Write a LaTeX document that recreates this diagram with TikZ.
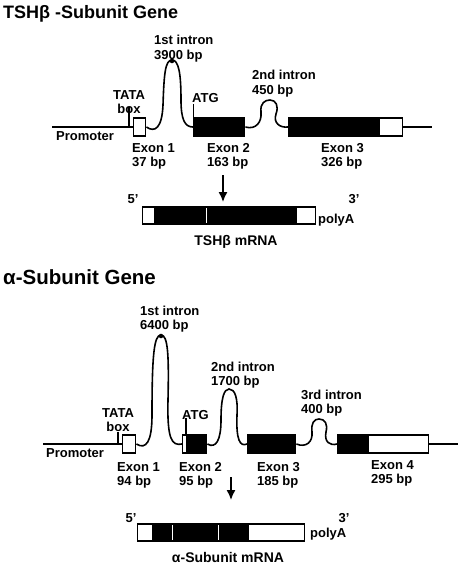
\documentclass[tikz,border=0pt]{standalone}
\usepackage{fontspec}
\setmainfont{Liberation Sans}
\usetikzlibrary{arrows.meta}

\begin{document}
\begin{tikzpicture}[
  x=1pt, y=-1pt,
  dna/.style={line width=1.7pt},
  intron/.style={line width=1.6pt},
  exon/.style={draw, line width=1.4pt, fill=black, inner sep=0pt, minimum height=18pt, anchor=west},
  utr/.style={exon, fill=white},
  rna/.style={exon, minimum height=17pt},
  rnautr/.style={rna, fill=white},
  tickline/.style={line width=1.4pt},
  apex/.style={circle, fill, inner sep=1.6pt},
  lbl/.style={font=\fontsize{13}{14}\selectfont\bfseries, inner sep=0pt, align=left},
  rlbl/.style={font=\fontsize{14}{16}\selectfont\bfseries, inner sep=0pt},
  ttl/.style={font=\fontsize{18}{21}\selectfont\bfseries, inner sep=0pt},
  >={Latex[length=10pt,width=9pt]},
]
\useasboundingbox (0,0) rectangle (458,566);

% ===== TOP PANEL: TSH beta gene ================================================
\node[ttl, anchor=base west] (t-title) at (3,18) {TSHβ -Subunit Gene};

% Exons
\node[utr,  minimum width=12pt] (t-ex1)  at (133,127) {};
\node[exon, minimum width=51pt] (t-ex2)  at (193,127) {};
\node[exon, minimum width=91pt] (t-ex3)  at (288,127) {};
\node[utr,  minimum width=23pt] (t-ex3u) at (379,127) {};

% Promoter and 3' flank
\coordinate (t-start) at (52,127);
\coordinate (t-end)   at (432,127);
\draw[dna] (t-start) -- (t-ex1.west);
\draw[dna] (t-ex3u.east) -- (t-end);

% TATA box and ATG ticks
\coordinate (t-tata)    at (129,127);
\coordinate (t-tata-up) at (129,107);
\draw[tickline] (t-tata) -- (t-tata-up);
\coordinate (t-atg-up) at (193.5,104);
\draw[tickline] (t-ex2.north west) ++(0.5,0) coordinate (t-atg) -- (t-atg-up);

% Introns
\draw[intron] (t-ex1.east) .. controls (155,133) and (162,128) .. (163,105)
  .. controls (164,75) and (165,60) .. (172,60)
  .. controls (179,60) and (181,75) .. (181,100)
  .. controls (181,120) and (185,127) .. (t-ex2.west);
\node[apex] (t-apex1) at (172,61) {};
\draw[intron] (t-ex2.east) .. controls (256,130) and (262,122) .. (261,112)
  .. controls (260,103) and (265,100) .. (270,100)
  .. controls (276,100) and (279,106) .. (276,114)
  .. controls (273,123) and (280,128) .. (t-ex3.west);

% Labels
\node[lbl, align=center, anchor=north] (t-tata-l) at (129,90) {TATA\\box};
\node[lbl, anchor=base west] (t-atg-l) at (192,102) {ATG};
\node[lbl, anchor=north west] (t-in1-l) at (154,35) {1st intron\\[1pt]3900 bp};
\node[lbl, anchor=north west] (t-in2-l) at (252,70) {2nd intron\\[1pt]450 bp};
\node[lbl, anchor=base west] (t-prom-l) at (56,140) {Promoter};
\node[lbl, anchor=north west] (t-ex1-l) at (132,143) {Exon 1\\37 bp};
\node[lbl, anchor=north west] (t-ex2-l) at (207,143) {Exon 2\\163 bp};
\node[lbl, anchor=north west] (t-ex3-l) at (321,143) {Exon 3\\326 bp};

% Splicing arrow
\coordinate (t-arr-a) at (223,175);
\coordinate (t-arr-b) at (223,202);
\draw[->, line width=1.5pt] (t-arr-a) -- (t-arr-b);

% mRNA
\node[rnautr, minimum width=12pt]  (t-m1) at (142,215.5) {};
\node[rna,    minimum width=142pt] (t-m2) at (154,215.5) {};
\node[rnautr, minimum width=19pt]  (t-m3) at (296,215.5) {};
\draw[white, line width=1pt] (206,208) -- (206,223);
\node[lbl, anchor=base] (t-5p) at (133,203) {5'};
\node[lbl, anchor=base] (t-3p) at (354,203) {3'};
\node[lbl, anchor=base west] (t-polya) at (318,223) {polyA};
\node[rlbl, anchor=base] (t-mrna-l) at (236,245) {TSHβ mRNA};

% ===== BOTTOM PANEL: alpha gene ================================================
\node[ttl, font=\fontsize{20.5}{24}\selectfont\bfseries, anchor=base west] (b-title) at (3,284) {α-Subunit Gene};

% Exons
\node[utr,  minimum width=13pt] (b-ex1)  at (122,444) {};
\node[utr,  minimum width=4pt]  (b-ex2u) at (182,444) {};
\node[exon, minimum width=20pt] (b-ex2)  at (186,444) {};
\node[exon, minimum width=48pt] (b-ex3)  at (247,444) {};
\node[exon, minimum width=31pt] (b-ex4)  at (337,444) {};
\node[utr,  minimum width=60pt] (b-ex4u) at (368,444) {};

% Promoter and 3' flank
\coordinate (b-start) at (43,444);
\coordinate (b-end)   at (458,444);
\draw[dna] (b-start) -- (b-ex1.west);
\draw[dna] (b-ex4u.east) -- (b-end);

% TATA box and ATG ticks
\coordinate (b-tata)    at (118,444);
\coordinate (b-tata-up) at (118,432);
\draw[tickline] (b-tata) -- (b-tata-up);
\coordinate (b-atg-up) at (186,418);
\draw[tickline] (b-ex2.north west) -- (b-atg-up);

% Introns
\draw[intron] (b-ex1.east) .. controls (146,450) and (152,442) .. (152,415)
  .. controls (152,355) and (154,335) .. (161,335)
  .. controls (168,335) and (169,355) .. (168,400)
  .. controls (167,440) and (172,446) .. (b-ex2u.west);
\node[apex] (b-apex1) at (161,336) {};
\draw[intron] (b-ex2.east) .. controls (216,449) and (221,440) .. (221,420)
  .. controls (221,398) and (224,389) .. (229,389)
  .. controls (235,389) and (238,398) .. (237,415)
  .. controls (236,440) and (240,447) .. (b-ex3.west);
\draw[intron] (b-ex3.east) .. controls (306,448) and (313,442) .. (312,432)
  .. controls (311,423) and (314,419) .. (319,419)
  .. controls (325,419) and (328,424) .. (326,432)
  .. controls (324,442) and (330,446) .. (b-ex4.west);

% Labels
\node[lbl, align=center, anchor=north] (b-tata-l) at (118,408) {TATA\\box};
\node[lbl, anchor=base west] (b-atg-l) at (182,419) {ATG};
\node[lbl, anchor=north west] (b-in1-l) at (140,306) {1st intron\\6400 bp};
\node[lbl, anchor=north west] (b-in2-l) at (211,362) {2nd intron\\1700 bp};
\node[lbl, anchor=north west] (b-in3-l) at (301,390) {3rd intron\\400 bp};
\node[lbl, anchor=base west] (b-prom-l) at (46,457) {Promoter};
\node[lbl, anchor=north west] (b-ex1-l) at (117,462) {Exon 1\\94 bp};
\node[lbl, anchor=north west] (b-ex2-l) at (179,462) {Exon 2\\95 bp};
\node[lbl, anchor=north west] (b-ex3-l) at (257,462) {Exon 3\\185 bp};
\node[lbl, anchor=north west] (b-ex4-l) at (371,460) {Exon 4\\295 bp};

% Splicing arrow
\coordinate (b-arr-a) at (231,477);
\coordinate (b-arr-b) at (231,500);
\draw[->, line width=1.5pt] (b-arr-a) -- (b-arr-b);

% mRNA
\node[rnautr, minimum width=15pt] (b-m1) at (137,532.5) {};
\node[rna,    minimum width=96pt] (b-m2) at (152,532.5) {};
\node[rnautr, minimum width=56pt] (b-m3) at (248,532.5) {};
\draw[white, line width=1pt] (172,525) -- (172,540);
\draw[white, line width=1pt] (218,525) -- (218,540);
\node[lbl, anchor=base] (b-5p) at (131,522) {5'};
\node[lbl, anchor=base] (b-3p) at (344,522) {3'};
\node[lbl, anchor=base west] (b-polya) at (310,537) {polyA};
\node[rlbl, anchor=base] (b-mrna-l) at (228,562) {α-Subunit mRNA};

\end{tikzpicture}
\end{document}
